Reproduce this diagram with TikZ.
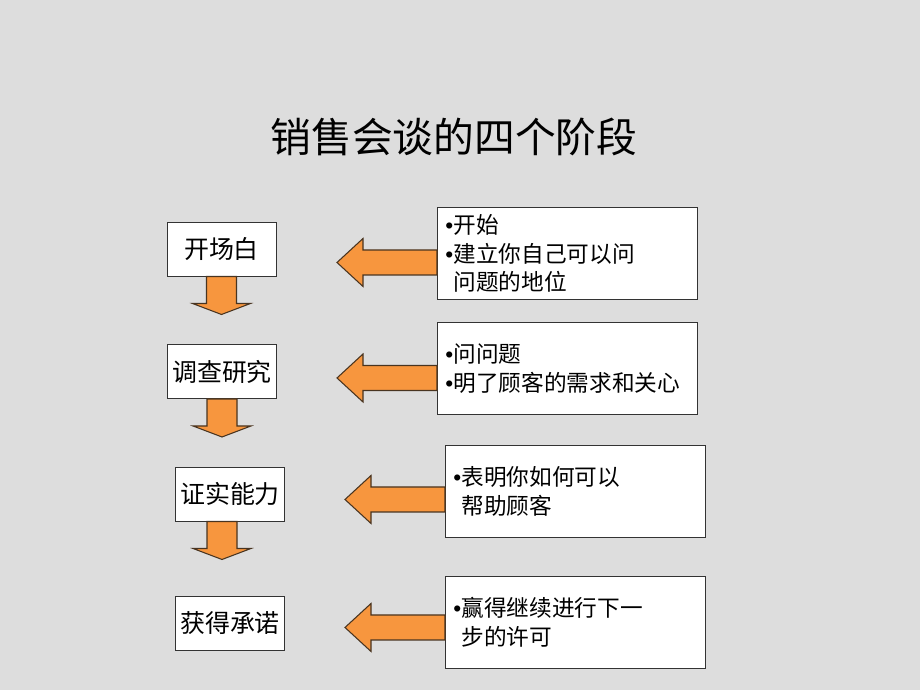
\documentclass[tikz,border=0pt]{standalone}
\usepackage{fontspec}
\usepackage{xcolor}
\usepackage{tikz}
\newfontfamily\cjk{Noto Sans CJK SC}
\newfontfamily\latin{Liberation Sans}
\newcommand{\bul}{{\latin\textbullet}}
\usetikzlibrary{positioning,calc}

\definecolor{bggray}{RGB}{221,221,221}
\definecolor{arrorange}{RGB}{247,150,62}
\definecolor{arrline}{RGB}{72,52,32}

\tikzset{
  stage/.style={draw=black!80, fill=white, line width=0.55pt, inner sep=0pt,
    minimum width=2.18cm, minimum height=1.08cm,
    font=\cjk\fontsize{14.2}{17}\selectfont},
  note/.style={draw=black!80, fill=white, line width=0.55pt, anchor=north west,
    text width=4.88cm, inner xsep=0.16cm, inner ysep=0pt, minimum height=1.84cm,
    align=left, font=\cjk\fontsize{12.9}{16.2}\selectfont},
  blockarr/.style={fill=arrorange, draw=arrline, line width=0.6pt, line join=miter}
}

\begin{document}
\begin{tikzpicture}[x=0.02cm, y=-0.02cm]
    \fill[bggray] (0,0) rectangle (920,690);
    \useasboundingbox (0,0) rectangle (920,690);

    % Title
    \node[font=\cjk\fontsize{23.2}{27}\selectfont] (title) at (454,137) {销售会谈的四个阶段};

    % Stages on the left
    \node[stage] (open) at (221.5,249) {开场白};
    \node[stage] (probe) at (222,371.5) {调查研究};
    \node[stage] (prove) at (230,494) {证实能力};
    \node[stage] (close) at (230,623) {获得承诺};

    % Notes on the right
    \node[note] (openN) at (437,207) {\bul{}开始\\\bul{}建立你自己可以问\\\phantom{\bul}问题的地位};
    \node[note] (probeN) at (437,322) {\bul{}问问题\\\bul{}明了顾客的需求和关心};
    \node[note] (proveN) at (445,445) {\bul{}表明你如何可以\\\phantom{\bul}帮助顾客};
    \node[note] (closeN) at (445,576) {\bul{}赢得继续进行下一\\\phantom{\bul}步的许可};

    % Left arrows: note -> stage
    \draw[blockarr] ($(openN.west)+(0,-3.5)$) -- ++(-74,0) -- ++(0,-11.5) -- ++(-26,24) -- ++(26,24) -- ++(0,-11.5) -- ++(74,0) -- cycle;
    \draw[blockarr] ($(probeN.west)+(0,-3)$) -- ++(-74,0) -- ++(0,-11.5) -- ++(-26,24) -- ++(26,24) -- ++(0,-11.5) -- ++(74,0) -- cycle;
    \draw[blockarr] ($(proveN.west)+(0,-4.5)$) -- ++(-74,0) -- ++(0,-11.5) -- ++(-26,24) -- ++(26,24) -- ++(0,-11.5) -- ++(74,0) -- cycle;
    \draw[blockarr] ($(closeN.west)+(0,-7.5)$) -- ++(-74,0) -- ++(0,-11.5) -- ++(-26,24) -- ++(26,24) -- ++(0,-11.5) -- ++(74,0) -- cycle;

    % Down arrows between stages
    \draw[blockarr] ($(open.south)+(-15,0)$) -- ++(0,27) -- ++(-14,0) -- ++(29,11) -- ++(29,-11) -- ++(-14,0) -- ++(0,-27) -- cycle;
    \draw[blockarr] ($(probe.south)+(-15,0)$) -- ++(0,27) -- ++(-14,0) -- ++(29,11) -- ++(29,-11) -- ++(-14,0) -- ++(0,-27) -- cycle;
    \draw[blockarr] ($(prove.south)+(-23,0)$) -- ++(0,27) -- ++(-14,0) -- ++(29,11) -- ++(29,-11) -- ++(-14,0) -- ++(0,-27) -- cycle;
\end{tikzpicture}
\end{document}
